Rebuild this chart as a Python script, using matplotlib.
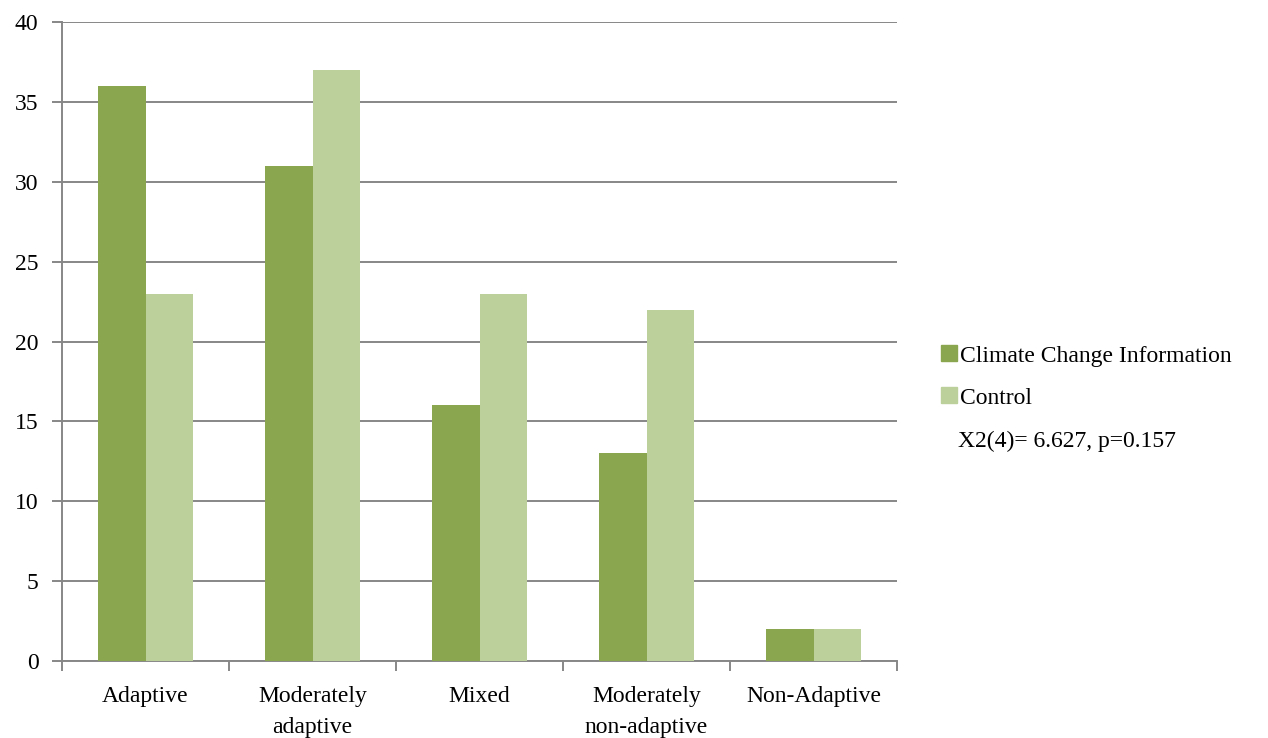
import numpy as np
import matplotlib.pyplot as plt
from matplotlib.ticker import MultipleLocator, FixedLocator
from matplotlib.patches import Patch

categories = ['Adaptive', 'Moderately\nadaptive', 'Mixed', 'Moderately\nnon-adaptive', 'Non-Adaptive']
climate = [36, 31, 16, 13, 2]
control = [23, 37, 23, 22, 2]
series_names = ['Climate Change Information', 'Control']
stat_text = 'X2(4)= 6.627, p=0.157'

plt.rcParams['font.family'] = ['Liberation Serif', 'DejaVu Serif']
dark = '#8aa64f'
light = '#bbd09a'
grid_c = '#878787'
fs = 17

fig = plt.figure(figsize=(12.68, 7.38), dpi=100)
ax = fig.add_axes([62 / 1268, 1 - 661 / 738, (897 - 62) / 1268, (661 - 22) / 738])

x = np.arange(len(categories))
w = 0.282
ax.bar(x - w / 2, climate, w, color=dark, zorder=3)
ax.bar(x + w / 2, control, w, color=light, zorder=3)

ax.set_xlim(-0.5, len(categories) - 0.5)
ax.set_ylim(0, 40)
ax.yaxis.set_major_locator(MultipleLocator(5))
ax.yaxis.grid(True, color=grid_c, linewidth=1.4, zorder=0)
ax.set_axisbelow(True)

ax.set_xticks(x)
ax.set_xticklabels(categories, fontsize=fs, linespacing=1.6)
ax.tick_params(axis='x', length=0, pad=18)
ax.xaxis.set_minor_locator(FixedLocator(np.arange(-0.5, len(categories), 1.0)))
ax.tick_params(axis='x', which='minor', length=7, width=1.4, color=grid_c)
ax.tick_params(axis='y', labelsize=fs, length=7, width=1.4, color=grid_c, pad=10)

for s in ['top', 'right']:
    ax.spines[s].set_visible(False)
for s in ['left', 'bottom']:
    ax.spines[s].set_color(grid_c)
    ax.spines[s].set_linewidth(1.4)

handles = [Patch(color=dark), Patch(color=light)]
fig.legend(handles, series_names, loc='upper left', bbox_to_anchor=(932 / 1268, 1 - 336 / 738),
           frameon=False, fontsize=fs, handlelength=0.65, handleheight=0.65,
           handletextpad=0.15, labelspacing=0.88, borderaxespad=0)
fig.text(958 / 1268, 1 - 441 / 738, stat_text, fontsize=fs, va='center', ha='left')

fig.savefig('out.png', dpi=100)
